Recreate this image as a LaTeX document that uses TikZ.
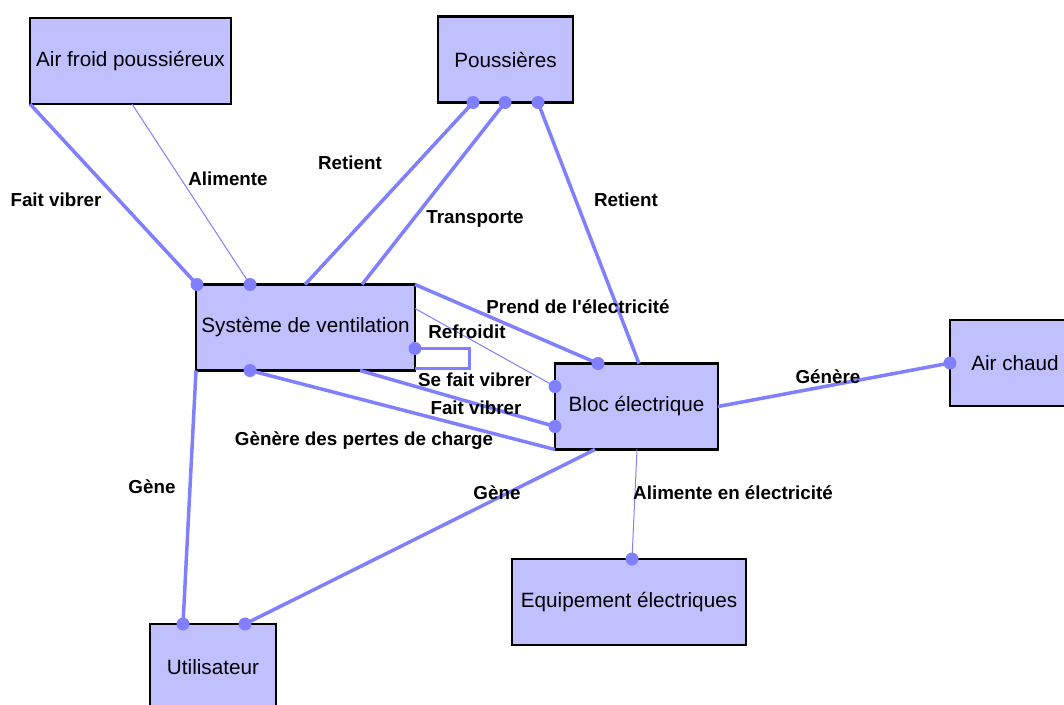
\documentclass[tikz,border=0pt]{standalone}
\usepackage{fontspec}
\setmainfont{Liberation Sans}[Ligatures=TeXOff]
\definecolor{boxfill}{HTML}{C0C0FF}
\definecolor{linkc}{HTML}{8080FF}
\begin{document}
\begin{tikzpicture}[x=1pt,y=-1pt,
  box/.style={draw=black,line width=2.4pt,fill=boxfill,inner sep=0pt,outer sep=0pt,
              minimum height=86pt,font=\fontsize{20.7}{24}\selectfont},
  thick link/.style={draw=linkc,line width=3.5pt},
  thin link/.style={draw=linkc,line width=1pt},
  dotc/.style={fill=linkc},
  lbl/.style={font=\fontsize{18.8}{22}\selectfont\bfseries,inner sep=0pt}]
\useasboundingbox (0,0) rectangle (1064,704);
\fill[white] (0,0) rectangle (1064,704);
\clip (0,0) rectangle (1064,704);

% boxes
\node[box,minimum width=201pt] (afp) at (130.5,61) {Air froid poussiéreux};
\node[box,minimum width=135pt] (pou) at (505.5,59.5) {Poussières};
\node[box,minimum width=219pt] (sv) at (305.5,327.5) {Système de ventilation};
\node[box,minimum width=163pt] (bloc) at (636.5,406.5) {Bloc électrique};
\node[box,minimum width=130pt] (ac) at (1015,363) {Air chaud};
\node[box,minimum width=234pt] (eq) at (629,602) {Equipement électriques};
\node[box,minimum width=126pt] (ut) at (213,667) {Utilisateur};

% anchor points
\coordinate (sv-n0) at ([xshift=1pt]sv.north west);
\coordinate (sv-n1) at ([xshift=54pt]sv.north west);
\coordinate (sv-n2) at ([xshift=109pt]sv.north west);
\coordinate (sv-n3) at ([xshift=166pt]sv.north west);
\coordinate (sv-e1) at ([yshift=-24pt]sv.north east);
\coordinate (sv-e2) at ([yshift=-64pt]sv.north east);
\coordinate (sv-s1) at ([xshift=54pt]sv.south west);
\coordinate (sv-s2) at ([xshift=164pt]sv.south west);
\coordinate (pou-s1) at ([xshift=35pt]pou.south west);
\coordinate (pou-s2) at ([xshift=67pt]pou.south west);
\coordinate (pou-s3) at ([xshift=100pt]pou.south west);
\coordinate (bl-n1) at ([xshift=43pt]bloc.north west);
\coordinate (bl-n2) at ([xshift=84pt]bloc.north west);
\coordinate (bl-w1) at ([yshift=-23pt]bloc.north west);
\coordinate (bl-w2) at ([yshift=-63pt]bloc.north west);
\coordinate (bl-s1) at ([xshift=40pt]bloc.south west);
\coordinate (bl-s2) at ([xshift=82pt]bloc.south west);
\coordinate (eq-n) at ([xshift=120pt]eq.north west);
\coordinate (ut-n1) at ([xshift=33pt]ut.north west);
\coordinate (ut-n2) at ([xshift=95pt]ut.north west);

% connectors
\draw[thick link] (afp.south west) -- (sv-n0);
\draw[thin link] ([xshift=102pt]afp.south west) -- (sv-n1);
\draw[thick link] (sv-n2) -- (pou-s1);
\draw[thick link] (sv-n3) -- (pou-s2);
\draw[thick link] (pou-s3) -- (bl-n2);
\draw[thick link] (sv.north east) -- (bl-n1);
\draw[thin link] (sv-e1) -- (bl-w1);
\draw[draw=linkc,line width=3pt] (sv-e2) -- ++(54,0) -- ++(0,20) -- ++(-54,0);
\draw[thick link] (sv-s2) -- (bl-w2);
\draw[thick link] (sv-s1) -- (bloc.south west);
\draw[thick link] (bloc.east) -- (ac.west);
\draw[thick link] (sv.south west) -- (ut-n1);
\draw[thick link] (bl-s1) -- (ut-n2);
\draw[thin link] (bl-s2) -- (eq-n);

% end dots
\foreach \p in {sv-n0,sv-n1,pou-s1,pou-s2,pou-s3,bl-n1,bl-w1,sv-e2,bl-w2,sv-s1,ac.west,ut-n1,ut-n2,eq-n}
  \fill[dotc] (\p) circle[radius=6.5pt];

% labels
\node[lbl] (l1) at (56,200) {Fait vibrer};
\node[lbl] (l2) at (228,179) {Alimente};
\node[lbl] (l3) at (350,163) {Retient};
\node[lbl] (l4) at (475,219) {Transporte};
\node[lbl] (l5) at (626,200) {Retient};
\node[lbl] (l6) at (578,307) {Prend de l'électricité};
\node[lbl] (l7) at (467,332) {Refroidit};
\node[lbl] (l8) at (475,380) {Se fait vibrer};
\node[lbl] (l9) at (476,408) {Fait vibrer};
\node[lbl] (l10) at (364,441) {Gènère des pertes de charge};
\node[lbl] (l11) at (828,377) {Génère};
\node[lbl] (l12) at (152,487) {Gène};
\node[lbl] (l13) at (497,493) {Gène};
\node[lbl] (l14) at (733,493) {Alimente en électricité};
\end{tikzpicture}
\end{document}
